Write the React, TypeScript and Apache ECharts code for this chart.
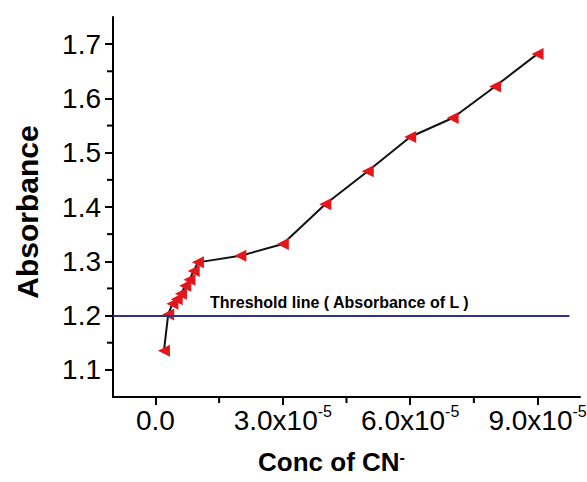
import React, { useEffect, useRef } from "react";
import * as echarts from "echarts";

// Concentration of CN- (M) and absorbance readings
const CONC = [0.2e-5, 0.3e-5, 0.4e-5, 0.5e-5, 0.6e-5, 0.7e-5, 0.8e-5, 0.9e-5, 1.0e-5, 2e-5, 3e-5, 4e-5, 5e-5, 6e-5, 7e-5, 8e-5, 9e-5];
const ABSORBANCE = [1.135, 1.202, 1.222, 1.23, 1.24, 1.255, 1.266, 1.282, 1.298, 1.31, 1.332, 1.405, 1.466, 1.529, 1.564, 1.622, 1.682];

const X_MAJOR = [0, 3e-5, 6e-5, 9e-5];
const X_MINOR = [1.5e-5, 4.5e-5, 7.5e-5];
const Y_MAJOR = [1.1, 1.2, 1.3, 1.4, 1.5, 1.6, 1.7];
const Y_MINOR = [1.15, 1.25, 1.35, 1.45, 1.55, 1.65];
const X_MIN = -1e-5;
const X_MAX = 10e-5;
const Y_MIN = 1.05;
const Y_MAX = 1.75;
const THRESHOLD = 1.2;
const THRESHOLD_END = 9.75e-5;
const THRESHOLD_LABEL = "Threshold line ( Absorbance of L )";

const FONT = "'Liberation Sans', Arial, sans-serif";

function xLabel(v: number): string {
  if (Math.abs(v) < 1e-12) return "{a|0.0}";
  return `{a|${(v * 1e5).toFixed(1)}x10}{b|-5}`;
}

export default function App() {
  const ref = useRef<HTMLDivElement>(null);
  useEffect(() => {
    if (!ref.current) return;
    const chart = echarts.init(ref.current, null, { renderer: "svg" });
    const option: any = {
      animation: false,
      backgroundColor: "#fff",
      grid: { left: 113, right: 7, top: 17, bottom: 85, containLabel: false, outerBoundsMode: "none" },
      xAxis: {
        type: "value",
        min: X_MIN,
        max: X_MAX,
        position: "bottom",
        splitLine: { show: false },
        axisLine: { show: true, onZero: false, lineStyle: { color: "#000", width: 2 } },
        axisTick: { show: true, customValues: X_MAJOR, length: 8, lineStyle: { color: "#000", width: 2 } },
        axisLabel: {
          show: true,
          customValues: X_MAJOR,
          margin: 6,
          formatter: xLabel,
          rich: {
            a: { fontSize: 28, lineHeight: 34, fontFamily: FONT, color: "#000" },
            b: { fontSize: 16, fontFamily: FONT, color: "#000", verticalAlign: "top" },
          },
        },
        name: "{a|Conc of CN}{b|-}",
        nameLocation: "middle",
        nameGap: 52,
        nameTextStyle: {
          padding: [0, 30, 0, 0],
          rich: {
            a: { fontSize: 26, fontWeight: "bold", fontFamily: FONT, color: "#000" },
            b: { fontSize: 16, fontWeight: "bold", fontFamily: FONT, color: "#000", verticalAlign: "top" },
          },
        },
      },
      yAxis: {
        type: "value",
        min: Y_MIN,
        max: Y_MAX,
        position: "left",
        splitLine: { show: false },
        axisLine: { show: true, onZero: false, lineStyle: { color: "#000", width: 2 } },
        axisTick: { show: true, customValues: Y_MAJOR, length: 8, lineStyle: { color: "#000", width: 2 } },
        axisLabel: {
          show: true,
          customValues: Y_MAJOR,
          margin: 12,
          formatter: (v: number) => v.toFixed(1),
          fontSize: 28,
          fontFamily: FONT,
          color: "#000",
        },
        name: "Absorbance",
        nameLocation: "middle",
        nameGap: 71,
        nameTextStyle: { fontSize: 30, fontWeight: "bold", fontFamily: FONT, color: "#000", padding: [0, 10, 0, 0] },
      },
      series: [
        {
          type: "line",
          data: CONC.map((c, i) => [c, ABSORBANCE[i]]),
          symbol: "triangle",
          symbolRotate: 90,
          symbolSize: 12,
          itemStyle: { color: "#e3161c" },
          lineStyle: { color: "#111", width: 2 },
          emphasis: { disabled: true },
          z: 3,
          markLine: {
            silent: true,
            symbol: ["none", "none"],
            lineStyle: { color: "#30308f", width: 2, type: "solid" },
            emphasis: { disabled: true },
            label: {
              show: true,
              position: "insideStartTop",
              formatter: THRESHOLD_LABEL,
              fontFamily: FONT,
              fontWeight: "bold",
              fontSize: 16,
              color: "#000",
              padding: [0, 0, 0, 92],
            },
            data: [[{ coord: [X_MIN, THRESHOLD] }, { coord: [THRESHOLD_END, THRESHOLD] }]],
          },
        },
      ],
    };
    chart.setOption(option);

    // Minor ticks, positioned through the chart's own scales
    const minorLines: any[] = [];
    X_MINOR.forEach((v) => {
      const p = chart.convertToPixel({ gridIndex: 0 }, [v, Y_MIN]) as number[];
      if (p) minorLines.push({ type: "line", silent: true, z: 10, shape: { x1: p[0], y1: p[1], x2: p[0], y2: p[1] + 6 }, style: { stroke: "#000", lineWidth: 2 } });
    });
    Y_MINOR.forEach((v) => {
      const p = chart.convertToPixel({ gridIndex: 0 }, [X_MIN, v]) as number[];
      if (p) minorLines.push({ type: "line", silent: true, z: 10, shape: { x1: p[0] - 6, y1: p[1], x2: p[0], y2: p[1] }, style: { stroke: "#000", lineWidth: 2 } });
    });
    chart.setOption({ graphic: minorLines });

    return () => chart.dispose();
  }, []);
  return <div ref={ref} style={{ position: "fixed", left: 0, top: 0, width: 587, height: 482 }} />;
}
